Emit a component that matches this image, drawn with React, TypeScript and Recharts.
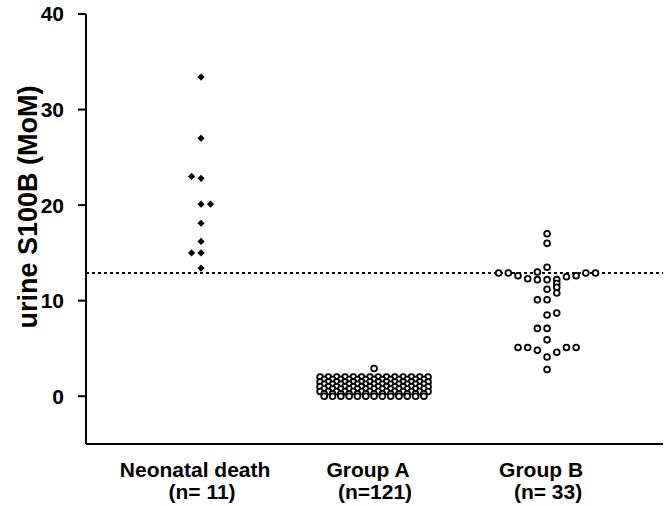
import React from 'react';
import {
  ScatterChart,
  Scatter,
  XAxis,
  YAxis,
  ReferenceLine,
} from 'recharts';

// Rótulos das categorias (duas linhas)
const CATEGORY_NAMES = ['Neonatal death', 'Group A', 'Group B'];
const CATEGORY_COUNTS = ['(n= 11)', '(n=121)', '(n= 33)'];

const Y_TICKS = [0, 10, 20, 30, 40];
const CUTOFF = 12.9;

// Neonatal death: valores e coluna do "beeswarm"
const neonatalValues = [33.4, 27.0, 23.0, 22.8, 20.1, 20.1, 18.1, 16.2, 15.0, 15.0, 13.4];
const neonatalSlots = [0, 0, -1, 0, 0, 1, 0, 0, -1, 0, 0];

// Group A: 121 casos, quase todos entre 0 e 2
const groupAValues = [
  2.9,
  2.0, 2.0, 2.0, 2.0, 2.0, 2.0, 2.0, 2.0, 2.0, 2.0, 2.0, 2.0, 2.0, 2.0,
  1.75, 1.75, 1.75, 1.75, 1.75, 1.75, 1.75, 1.75, 1.75, 1.75, 1.75, 1.75, 1.75,
  1.5, 1.5, 1.5, 1.5, 1.5, 1.5, 1.5, 1.5, 1.5, 1.5, 1.5, 1.5, 1.5, 1.5,
  1.25, 1.25, 1.25, 1.25, 1.25, 1.25, 1.25, 1.25, 1.25, 1.25, 1.25, 1.25, 1.25,
  1.0, 1.0, 1.0, 1.0, 1.0, 1.0, 1.0, 1.0, 1.0, 1.0, 1.0, 1.0, 1.0, 1.0,
  0.75, 0.75, 0.75, 0.75, 0.75, 0.75, 0.75, 0.75, 0.75, 0.75, 0.75, 0.75, 0.75,
  0.5, 0.5, 0.5, 0.5, 0.5, 0.5, 0.5, 0.5, 0.5, 0.5, 0.5, 0.5, 0.5, 0.5,
  0.25, 0.25, 0.25, 0.25, 0.25, 0.25, 0.25, 0.25, 0.25, 0.25, 0.25, 0.25, 0.25,
  0.0, 0.0, 0.0, 0.0, 0.0, 0.0, 0.0, 0.0, 0.0, 0.0, 0.0, 0.0, 0.0,
];

// Group B
const groupBValues = [
  17.0, 16.0, 13.5, 13.0,
  12.9, 12.9, 12.9, 12.9,
  12.6, 12.6, 12.5, 12.3,
  12.2, 12.2, 12.2,
  11.8, 11.4, 11.2, 10.8,
  10.1, 10.1, 8.7, 8.5,
  7.1, 7.1, 5.9,
  5.1, 5.1, 5.1, 5.1,
  4.8, 4.6, 4.1, 2.8,
];
const groupBSlots = [
  0, 0, 0, -1,
  -5, -4, 4, 5,
  -3, 3, 2, -2,
  -1, 0, 1,
  1, 1, 0, 1,
  -1, 0, 1, 0,
  -1, 0, 0,
  -3, -2, 2, 3,
  -1, 1, 0, 0,
];

const FONT = '"Liberation Sans", Arial, sans-serif';

const toPoints = (values: number[], slots: number[], cat: number, step: number) =>
  values.map((v, i) => ({ x: cat + slots[i] * step, y: v }));

// slots centrados para valores repetidos (Group A)
const rowSlots = (values: number[]) => {
  const counts: Record<string, number> = {};
  values.forEach(v => { counts[v] = (counts[v] || 0) + 1; });
  const seen: Record<string, number> = {};
  return values.map(v => {
    const i = seen[v] || 0;
    seen[v] = i + 1;
    return i - (counts[v] - 1) / 2;
  });
};

const neonatalData = toPoints(neonatalValues, neonatalSlots, 0, 0.055);
const groupAData = toPoints(groupAValues, rowSlots(groupAValues), 1, 0.048);
const groupBData = toPoints(groupBValues, groupBSlots, 2, 0.056);

const Diamond = (props: any) => {
  const { cx, cy } = props;
  const s = 3.6;
  return <path d={`M${cx},${cy - s}L${cx + s},${cy}L${cx},${cy + s}L${cx - s},${cy}Z`} fill="#000" />;
};

const OpenCircle = (props: any) => {
  const { cx, cy } = props;
  return <circle cx={cx} cy={cy} r={2.9} fill="#fff" stroke="#000" strokeWidth={1.8} />;
};

const CategoryTick = (props: any) => {
  const { x, y, payload } = props;
  const i = Math.round(payload.value);
  return (
    <g>
      <text x={x - 6} y={y + 33} textAnchor="middle" fontFamily={FONT} fontWeight="bold" fontSize={21} fill="#000">
        {CATEGORY_NAMES[i]}
      </text>
      <text x={x + 1} y={y + 55} textAnchor="middle" fontFamily={FONT} fontWeight="bold" fontSize={21} fill="#000">
        {CATEGORY_COUNTS[i]}
      </text>
    </g>
  );
};

const YTitle = () => (
  <text
    transform="translate(28,207) rotate(-90)"
    textAnchor="middle"
    dominantBaseline="central"
    fontFamily={FONT}
    fontWeight="bold"
    fontSize={27}
    fill="#000"
  >
    urine S100B (MoM)
  </text>
);

export default function App() {
  return (
    <div style={{ position: 'absolute', left: 0, top: 0, background: '#fff' }}>
      <ScatterChart width={667} height={506} margin={{ top: 14, right: 4, bottom: 0, left: 0 }}>
        <XAxis
          type="number"
          dataKey="x"
          domain={[-0.665, 2.67]}
          ticks={[0, 1, 2]}
          allowDataOverflow
          height={62}
          tickLine={false}
          tickSize={0}
          tickMargin={0}
          axisLine={{ stroke: '#000', strokeWidth: 2 }}
          tick={<CategoryTick />}
        />
        <YAxis
          type="number"
          dataKey="y"
          domain={[-5, 40]}
          ticks={Y_TICKS}
          allowDataOverflow
          width={86}
          tickSize={8}
          tickMargin={14}
          axisLine={{ stroke: '#000', strokeWidth: 2 }}
          tickLine={{ stroke: '#000', strokeWidth: 2 }}
          tick={{ fill: '#000', fontFamily: FONT, fontWeight: 'bold', fontSize: 21 }}
          label={<YTitle />}
        />
        <Scatter data={neonatalData} shape={<Diamond />} isAnimationActive={false} />
        <Scatter data={groupAData} shape={<OpenCircle />} isAnimationActive={false} />
        <Scatter data={groupBData} shape={<OpenCircle />} isAnimationActive={false} />
        <ReferenceLine y={CUTOFF} stroke="#000" strokeWidth={2} strokeDasharray="3 3" />
      </ScatterChart>
    </div>
  );
}
